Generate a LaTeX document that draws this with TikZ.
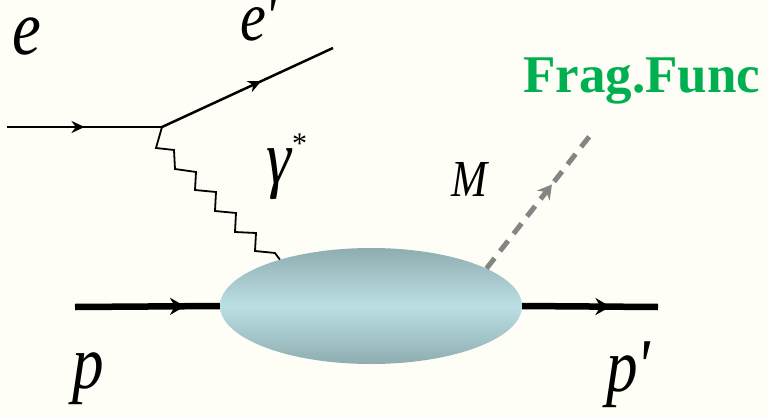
\documentclass[tikz,border=0pt]{standalone}
\usepackage{fontspec}
\setmainfont{Liberation Serif}
\usetikzlibrary{arrows.meta,decorations.markings,shapes.geometric}
\definecolor{bgc}{HTML}{FEFEF6}
\definecolor{blobdark}{HTML}{8FADB1}
\definecolor{bloblight}{HTML}{BADFE4}
\definecolor{fraggreen}{HTML}{00B050}
\definecolor{dashgray}{HTML}{858585}
\newcommand{\narrow}[1]{\scalebox{0.83}[1]{#1}}
\tikzset{
  lbl/.style={inner sep=0pt, anchor=base west, text height=40pt, text depth=18pt, font=\fontsize{78}{78}\selectfont\itshape},
  lblsmall/.style={inner sep=0pt, anchor=base west, font=\fontsize{52}{52}\selectfont\itshape},
  fermion/.style={line width=2.5pt, postaction={decorate}, decoration={markings,
     mark=at position #1 with {\arrow{Stealth[length=13pt,width=12pt]}}}},
  proton/.style={line width=6.5pt, postaction={decorate}, decoration={markings,
     mark=at position #1 with {\arrow{Stealth[length=15pt,width=17pt]}}}},
  photon/.style={line width=1.8pt, line join=miter},
  meson/.style={line width=5pt, dashgray, dash pattern=on 13pt off 9pt, postaction={decorate}, decoration={markings,
     mark=at position #1 with {\arrow{Stealth[length=14pt,width=16pt]}}}},
  blobstyle/.style={ellipse, minimum width=302pt, minimum height=116pt, inner sep=0pt,
     top color=blobdark, bottom color=blobdark, middle color=bloblight, draw=none}
}
\begin{document}
\begin{tikzpicture}[x=1pt,y=-1pt]
\fill[bgc] (0,0) rectangle (769,418);
\useasboundingbox (0,0) rectangle (769,418);
% nodes
\coordinate (ein) at (7,127);
\coordinate (v) at (162,127);
\coordinate (eout) at (333,48);
\node[blobstyle] (blob) at (371,306) {};
\coordinate (pin) at (75,307);
\coordinate (pout) at (658,307);
\coordinate (mend) at (592,133);
% lines
\draw[fermion=0.5] (ein) -- (v);
\draw[fermion=0.58] (v) -- (eout);
\draw[photon] (v) -- (156,148) -- (174,150) -- (175,169) -- (196,172) -- (195,190)
  -- (216,192) -- (215,211) -- (236,213) -- (235,232) -- (256,233) -- (255,251)
  -- (275,253) -- (blob.153);
\draw[proton=0.76] (pin) -- (blob.west);
\draw[proton=0.65] (blob.east) -- (pout);
\draw[meson=0.62] (blob.18) -- (mend);
% labels
\node[lbl] (le) at (12,54) {\narrow{e}};
\node[lbl, font=\fontsize{70}{70}\selectfont\itshape, text height=34pt] (leprime) at (240,40) {\narrow{e\kern-2pt\textquotesingle}};
\node[lbl, font=\fontsize{76}{76}\selectfont\itshape] (lgamma) at (266,183) {\narrow{γ}\kern1pt\raisebox{30pt}{\fontsize{30}{30}\selectfont\upshape *}};
\node[lblsmall] (lm) at (451,196) {\narrow{M}};
\node[inner sep=0pt, anchor=base west, text=fraggreen, font=\fontsize{53}{53}\selectfont\bfseries] (frag) at (523,92) {Frag.Func};
\node[lbl, font=\fontsize{76}{76}\selectfont\itshape] (lp) at (72,388) {\narrow{p}};
\node[lbl, font=\fontsize{76}{76}\selectfont\itshape] (lpp) at (606,391) {\narrow{p\kern-1pt\textquotesingle}};
\end{tikzpicture}
\end{document}
